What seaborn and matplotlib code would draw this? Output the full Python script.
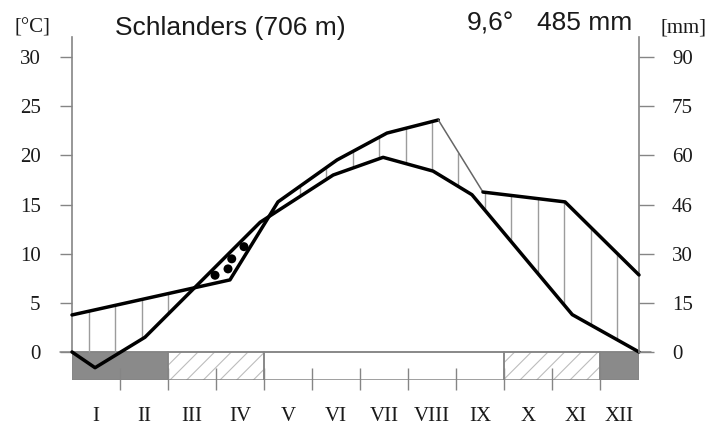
import numpy as np
import matplotlib
matplotlib.use("Agg")
import matplotlib.pyplot as plt
from matplotlib.patches import Rectangle
import seaborn as sns

# ---- data -------------------------------------------------------------
station = "Schlanders (706 m)"
annual_temp = "9,6°"
annual_precip = "485 mm"

months = ["I", "II", "III", "IV", "V", "VI", "VII", "VIII", "IX", "X", "XI", "XII"]

# temperature curve: time (months from 1 Jan) and mean temperature (°C)
temp_time = [0.0, 0.48, 1.52, 3.92, 5.44, 6.48, 7.52, 8.33, 10.42, 11.81]
temp_c = [0.0, -1.6, 1.5, 13.2, 18.0, 19.8, 18.4, 16.0, 3.8, 0.0]

# precipitation curve: time (months from 1 Jan) and precipitation (mm)
prec_time = [0.0, 3.29, 4.29, 5.52, 6.56, 7.63, 8.56, 10.27, 11.81]
prec_mm = [11.3, 22.0, 45.8, 58.6, 66.8, 70.8, 48.8, 45.8, 23.5]

temp_ticks = [0, 5, 10, 15, 20, 25, 30]
prec_ticks = [0, 15, 30, 45, 60, 75, 90]
prec_tick_labels = ["0", "15", "30", "46", "60", "75", "90"]

# frost classes per month for the bar below the diagram
frost = ["sure", "sure", "possible", "possible", "none", "none", "none",
         "none", "none", "possible", "possible", "sure"]

# ---- styling ----------------------------------------------------------
MM_PER_C = 3.0
GRAY = "#858585"
sns.set_style("white")
plt.rcParams["font.family"] = ["Liberation Serif", "DejaVu Serif"]
plt.rcParams["hatch.linewidth"] = 0.8

W, H = 708, 428
fig = plt.figure(figsize=(W / 100, H / 100), dpi=100)
ax = fig.add_axes([72 / W, (H - 380) / H, 567 / W, 343 / H])

x_end = temp_time[-1]
bar_depth = 2.85
y_top = 32.04
ax.set_xlim(0, x_end)
ax.set_ylim(-bar_depth, y_top)

ax2 = ax.twinx()
ax2.set_ylim(-bar_depth * MM_PER_C, y_top * MM_PER_C)

# ---- humid period: vertical hatching between the curves -------------
grid = np.arange(0.35, x_end, 0.55)
t_at = np.interp(grid, temp_time, temp_c)
p_at = np.interp(grid, prec_time, prec_mm) / MM_PER_C
low = np.maximum(t_at, 0)
mask = (p_at - low) > 0.4
ax.vlines(grid[mask], low[mask], p_at[mask], color="#9c9c9c", lw=1.0, zorder=2)

# ---- dry period: dots between the curves ------------------------------
fine = np.linspace(0, x_end, 4000)
tf = np.interp(fine, temp_time, temp_c)
pf = np.interp(fine, prec_time, prec_mm) / MM_PER_C
dry = fine[tf > pf]
d0, d1 = dry.min(), dry.max()
dot_fx = np.array([0.275, 0.45, 0.50, 0.665])
dot_fy = np.array([0.50, 0.44, 0.69, 0.56])
dx = d0 + dot_fx * (d1 - d0)
lo = np.interp(dx, prec_time, prec_mm) / MM_PER_C
hi = np.interp(dx, temp_time, temp_c)
dy = lo + dot_fy * (hi - lo)
sns.scatterplot(x=dx, y=dy, ax=ax, color="black", s=42, marker="o",
                edgecolor="none", zorder=4, legend=False)

# ---- frost bar ---------------------------------------------------------
fill = {"sure": "#8a8a8a", "possible": "white", "none": "white"}
hatch = {"sure": None, "possible": "//", "none": None}
runs = []
start = 0
for i in range(1, len(frost) + 1):
    if i == len(frost) or frost[i] != frost[start]:
        runs.append((start, min(i, x_end), frost[start]))
        start = i
for a, b, kind in runs:
    ax.add_patch(Rectangle((a, -bar_depth), b - a, bar_depth,
                           facecolor=fill[kind], edgecolor="#bdbdbd",
                           hatch=hatch[kind], lw=0, zorder=1))
    ax.add_patch(Rectangle((a, -bar_depth), b - a, bar_depth,
                           facecolor="none", edgecolor=GRAY, lw=1.1, zorder=1.5))

# month boundary ticks
ax.vlines(np.arange(1, len(months)), -1.63, -3.87, color=GRAY, lw=1.0,
          clip_on=False, zorder=1.6)
# zero line
ax.plot([-0.25, x_end + 0.24], [0, 0], color=GRAY, lw=1.1, clip_on=False, zorder=1.6)

# ---- curves -------------------------------------------------------------
sns.lineplot(x=temp_time, y=temp_c, ax=ax, color="black", lw=2.5,
             sort=False, estimator=None, zorder=5)
peak = int(np.argmax(prec_mm))
sns.lineplot(x=prec_time[:peak + 1], y=prec_mm[:peak + 1], ax=ax2,
             color="black", lw=2.5, sort=False, estimator=None, zorder=5)
sns.lineplot(x=prec_time[peak:peak + 2], y=prec_mm[peak:peak + 2], ax=ax2,
             color="#666666", lw=1.1, sort=False, estimator=None, zorder=5)
sns.lineplot(x=prec_time[peak + 1:], y=prec_mm[peak + 1:], ax=ax2,
             color="black", lw=2.5, sort=False, estimator=None, zorder=5)
for line in ax.lines + ax2.lines:
    line.set_clip_on(False)

# ---- axes ---------------------------------------------------------------
for a in (ax, ax2):
    for s in ("top", "bottom"):
        a.spines[s].set_visible(False)
ax.spines["right"].set_visible(False)
ax2.spines["left"].set_visible(False)
ax.spines["left"].set_bounds(0, y_top)
ax.spines["left"].set_color(GRAY)
ax.spines["left"].set_linewidth(1.2)
ax2.spines["right"].set_bounds(0, y_top * MM_PER_C)
ax2.spines["right"].set_color(GRAY)
ax2.spines["right"].set_linewidth(1.2)

ax.set_yticks(temp_ticks, [str(t) for t in temp_ticks])
ax.tick_params(axis="y", direction="out", length=8.6, width=1.0, color=GRAY,
               pad=14, labelsize=15, labelcolor="#1a1a1a", left=True)
ax2.set_yticks(prec_ticks, prec_tick_labels)
ax2.tick_params(axis="y", direction="out", length=10.8, width=1.0, color=GRAY,
                pad=13, labelsize=15, labelcolor="#1a1a1a", right=True)

centers = [i + 0.5 for i in range(len(months) - 1)] + [(len(months) - 1 + x_end) / 2]
ax.set_xticks(centers, months)
ax.tick_params(axis="x", length=0, pad=19.5, labelsize=15, labelcolor="#1a1a1a")
ax.set_xlabel("")
ax.set_ylabel("")
ax2.set_ylabel("")

# ---- header texts ---------------------------------------------------
sans = ["Liberation Sans", "DejaVu Sans"]
fig.text(115 / W, 1 - 35 / H, station, family=sans, fontsize=19,
         ha="left", va="baseline", color="#1a1a1a")
fig.text(467 / W, 1 - 30 / H, annual_temp, family=sans, fontsize=19,
         ha="left", va="baseline", color="#1a1a1a")
fig.text(632 / W, 1 - 30 / H, annual_precip, family=sans, fontsize=19,
         ha="right", va="baseline", color="#1a1a1a")
fig.text(14 / W, 1 - 33 / H, "[°C]", fontsize=15, ha="left", va="baseline",
         color="#1a1a1a")
fig.text(661 / W, 1 - 33 / H, "[mm]", fontsize=15, ha="left", va="baseline",
         color="#1a1a1a")

fig.savefig("out.png", dpi=100)
